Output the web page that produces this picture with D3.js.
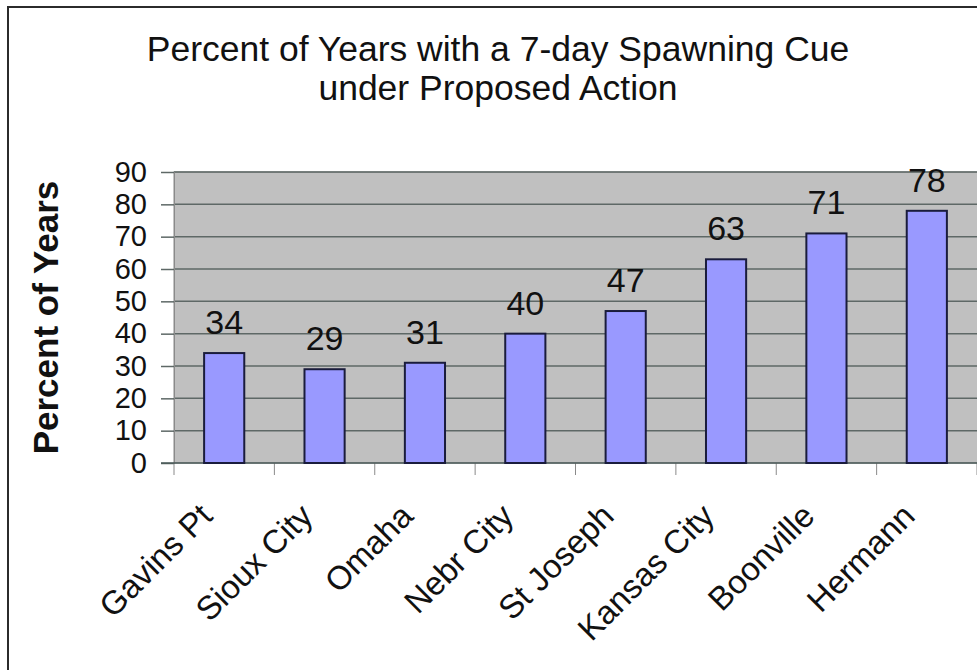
<!DOCTYPE html>
<html>
<head>
<meta charset="utf-8">
<script src="https://cdn.jsdelivr.net/npm/d3@7"></script>
<style>
  body { margin: 0; background: #fff; }
  svg { display: block; font-family: Arial, "Liberation Sans", sans-serif; }
</style>
</head>
<body>
<svg class="chart"></svg>
<script>
// Data
const CATEGORIES = ["Gavins Pt", "Sioux City", "Omaha", "Nebr City", "St Joseph", "Kansas City", "Boonville", "Hermann"];
const VALUES = [34, 29, 31, 40, 47, 63, 71, 78];
const Y_TICKS = [0, 10, 20, 30, 40, 50, 60, 70, 80, 90];
const TITLE_LINES = ["Percent of Years with a 7-day Spawning Cue", "under Proposed Action"];
const Y_TITLE = "Percent of Years";

// Chart constants
const WIDTH = 977, HEIGHT = 670;
const PLOT = { left: 174, right: 977, top: 172, bottom: 463 };

const CHART = d3.select(".chart").attr("width", WIDTH).attr("height", HEIGHT);

const X_fxn = d3.scaleBand().domain(CATEGORIES).range([PLOT.left, PLOT.right])
    .paddingInner(0.6).paddingOuter(0.3);
const CAT_fxn = d3.scaleBand().domain(CATEGORIES).range([PLOT.left, PLOT.right]);
const Y_fxn = d3.scaleLinear().domain([0, 90]).range([PLOT.bottom, PLOT.top]);

// outer frame (right and bottom edges fall outside the picture)
CHART.append("rect")
    .attr("x", 8).attr("y", 7).attr("width", 1000).attr("height", 700)
    .attr("fill", "none").attr("stroke", "#2b2b2b").attr("stroke-width", 2);

// title
CHART.append("g").selectAll("text").data(TITLE_LINES).join("text")
    .attr("x", 498).attr("y", (d, i) => 61 + i * 39)
    .attr("text-anchor", "middle")
    .attr("font-size", 35.5).attr("fill", "#111")
    .text(d => d);

// plot area
CHART.append("rect")
    .attr("x", PLOT.left).attr("y", PLOT.top)
    .attr("width", PLOT.right - PLOT.left + 10).attr("height", PLOT.bottom - PLOT.top)
    .attr("fill", "#c0c0c0").attr("stroke", "#8a8a8a").attr("stroke-width", 1);

// gridlines
CHART.append("g").selectAll("line").data(Y_TICKS.filter(d => d > 0)).join("line")
    .attr("x1", PLOT.left).attr("x2", PLOT.right + 10)
    .attr("y1", d => Y_fxn(d)).attr("y2", d => Y_fxn(d))
    .attr("stroke", "#5e6866").attr("stroke-width", 1.5);

// y axis
const yAxis = CHART.append("g").attr("class", "y-axis")
    .attr("transform", `translate(${PLOT.left}, 0)`)
    .call(d3.axisLeft(Y_fxn).tickValues(Y_TICKS).tickSize(13).tickPadding(14));
yAxis.select(".domain").attr("stroke", "#8a8a8a");
yAxis.selectAll(".tick line").attr("stroke", "#5e6866").attr("stroke-width", 1.5);
yAxis.selectAll(".tick text").attr("font-size", 29).attr("fill", "#111")
    .attr("font-family", "Arial, 'Liberation Sans', sans-serif");

// x axis: ticks at category boundaries
const xAxis = CHART.append("g").attr("class", "x-axis");
xAxis.selectAll("line.cat").data(CATEGORIES.concat(["_end"])).join("line")
    .attr("class", "cat")
    .attr("x1", (d, i) => i < CATEGORIES.length ? CAT_fxn(d) : PLOT.right)
    .attr("x2", (d, i) => i < CATEGORIES.length ? CAT_fxn(d) : PLOT.right)
    .attr("y1", PLOT.bottom).attr("y2", PLOT.bottom + 12)
    .attr("stroke", "#8a8a8a").attr("stroke-width", 1);

// bars
CHART.append("g").selectAll("rect").data(VALUES).join("rect")
    .attr("x", (d, i) => X_fxn(CATEGORIES[i]))
    .attr("y", d => Y_fxn(d))
    .attr("width", X_fxn.bandwidth())
    .attr("height", d => Y_fxn(0) - Y_fxn(d))
    .attr("fill", "#9999ff").attr("stroke", "#1a1c3c").attr("stroke-width", 2);

// zero line
xAxis.append("line")
    .attr("x1", PLOT.left - 13).attr("x2", PLOT.right)
    .attr("y1", Y_fxn(0)).attr("y2", Y_fxn(0))
    .attr("stroke", "#4a5a58").attr("stroke-width", 1.5);

// value labels
CHART.append("g").selectAll("text").data(VALUES).join("text")
    .attr("x", (d, i) => X_fxn(CATEGORIES[i]) + X_fxn.bandwidth() / 2)
    .attr("y", d => Y_fxn(d) - 19)
    .attr("text-anchor", "middle")
    .attr("font-size", 34).attr("fill", "#111")
    .text(d => d);

// category labels
CHART.append("g").selectAll("text").data(CATEGORIES).join("text")
    .attr("transform", d => `translate(${CAT_fxn(d) + CAT_fxn.bandwidth() / 2 - 10}, ${PLOT.bottom + 55}) rotate(-45)`)
    .attr("text-anchor", "end")
    .attr("font-size", 33).attr("fill", "#111")
    .text(d => d);

// y title
CHART.append("text")
    .attr("transform", "rotate(-90)")
    .attr("x", -(PLOT.top + PLOT.bottom) / 2)
    .attr("y", 58)
    .attr("text-anchor", "middle")
    .attr("font-size", 35).attr("font-weight", "bold").attr("fill", "#111")
    .text(Y_TITLE);
</script>
</body>
</html>
